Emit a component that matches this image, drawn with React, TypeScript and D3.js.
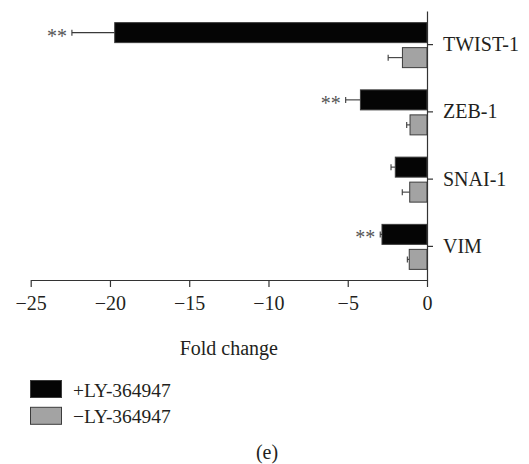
import { useEffect, useRef } from "react"
import * as d3 from "d3";

const genes = ["TWIST-1", "ZEB-1", "SNAI-1", "VIM"]
const withLY = [-19.7, -4.2, -2.0, -2.84]
const withLYErr = [2.7, 0.93, 0.27, 0.11]
const withoutLY = [-1.55, -1.07, -1.09, -1.12]
const withoutLYErr = [0.9, 0.21, 0.47, 0.12]
const stars = ["**", "**", "", "**"]
const xTicks = [-25, -20, -15, -10, -5, 0]
const seriesNames = ["+LY-364947", "\u2212LY-364947"]
const seriesColors = ["#050505", "#a3a3a3"]

const textColor = "#231f20"
const font = "'Liberation Serif', 'DejaVu Serif', serif"

export default function App() {
    const svgRef = useRef<SVGSVGElement>(null);

    useEffect(() => {
        const width = 529, height = 464
        const svg = d3.select(svgRef.current)
        svg.selectAll("*").remove()
        svg.attr("width", width).attr("height", height)

        const x = d3.scaleLinear().domain([-25, 0]).range([30.7, 427])
        const y = d3.scaleBand().domain(genes).range([11, 280])
        const inner = d3.scaleBand().domain(["plus", "minus"]).range([-22, 23]).paddingInner(0.2)

        const rows = genes.map((g, i) => ([
            { gene: g, key: "plus", v: withLY[i], e: withLYErr[i], color: seriesColors[0], star: stars[i] },
            { gene: g, key: "minus", v: withoutLY[i], e: withoutLYErr[i], color: seriesColors[1], star: "" },
        ])).flat()

        const center = (d) => y(d.gene)! + y.bandwidth() / 2

        // error bars
        const eb = svg.append("g").attr("stroke", "#3a3a3a").attr("stroke-width", 1.1)
        rows.forEach(d => {
            const cy = center(d) + inner(d.key)! + inner.bandwidth() / 2
            eb.append("line")
                .attr("x1", x(d.v)).attr("x2", x(d.v - d.e))
                .attr("y1", cy).attr("y2", cy)
            eb.append("line")
                .attr("x1", x(d.v - d.e)).attr("x2", x(d.v - d.e))
                .attr("y1", cy - 3).attr("y2", cy + 3)
        })

        // bars
        svg.append("g")
            .selectAll("rect")
            .data(rows)
            .join("rect")
                .attr("x", d => x(d.v))
                .attr("width", d => x(0) - x(d.v))
                .attr("y", d => center(d) + inner(d.key)!)
                .attr("height", inner.bandwidth())
                .attr("fill", d => d.color)
                .attr("stroke", "#3c3c3c")
                .attr("stroke-width", 1)

        // significance stars
        svg.append("g")
            .selectAll("text")
            .data(rows.filter(d => d.star))
            .join("text")
                .attr("x", d => x(d.v - d.e) - 5)
                .attr("y", d => center(d) + inner(d.key)! + inner.bandwidth() / 2 + 10)
                .attr("text-anchor", "end")
                .attr("fill", "#555")
                .style("font-family", font)
                .style("font-size", "20px")
                .text(d => d.star)

        // y axis (on the right of zero)
        const yAxis = svg.append("g")
            .attr("transform", `translate(${x(0)},0)`)
            .call(d3.axisRight(y).tickSize(6).tickSizeOuter(0).tickPadding(10))
        yAxis.selectAll("text").style("font-family", font).style("font-size", "20px").attr("fill", textColor)
        yAxis.selectAll("line, path").attr("stroke", "#333").attr("stroke-width", 1.2)

        // x axis
        const xAxis = svg.append("g")
            .attr("transform", `translate(0,280)`)
            .call(d3.axisBottom(x).tickValues(xTicks).tickSize(7).tickSizeOuter(0).tickPadding(9))
        xAxis.selectAll("text").style("font-family", font).style("font-size", "20px").attr("fill", textColor)
        xAxis.selectAll("line, path").attr("stroke", "#333").attr("stroke-width", 1.2)

        // x-axis label
        svg.append("text")
            .attr("x", (x(-25) + x(0)) / 2)
            .attr("y", 355)
            .attr("text-anchor", "middle")
            .attr("fill", textColor)
            .style("font-family", font)
            .style("font-size", "20px")
            .text("Fold change")

        // legend
        const legend = svg.append("g")
        seriesNames.forEach((name, i) => {
            legend.append("rect")
                .attr("x", 30.5).attr("y", 380.5 + i * 26.8)
                .attr("width", 31).attr("height", 17)
                .attr("fill", seriesColors[i])
                .attr("stroke", "#3c3c3c")
            legend.append("text")
                .attr("x", 73).attr("y", 396.5 + i * 26)
                .attr("fill", textColor)
                .style("font-family", font)
                .style("font-size", "19.5px")
                .text(name)
        })

        // panel label
        svg.append("text")
            .attr("x", 267).attr("y", 459)
            .attr("text-anchor", "middle")
            .attr("fill", textColor)
            .style("font-family", font)
            .style("font-size", "20px")
            .text("(e)")
    }, [])

    return <svg ref={svgRef} style={{ position: "absolute", left: 0, top: 0 }}></svg>
}
